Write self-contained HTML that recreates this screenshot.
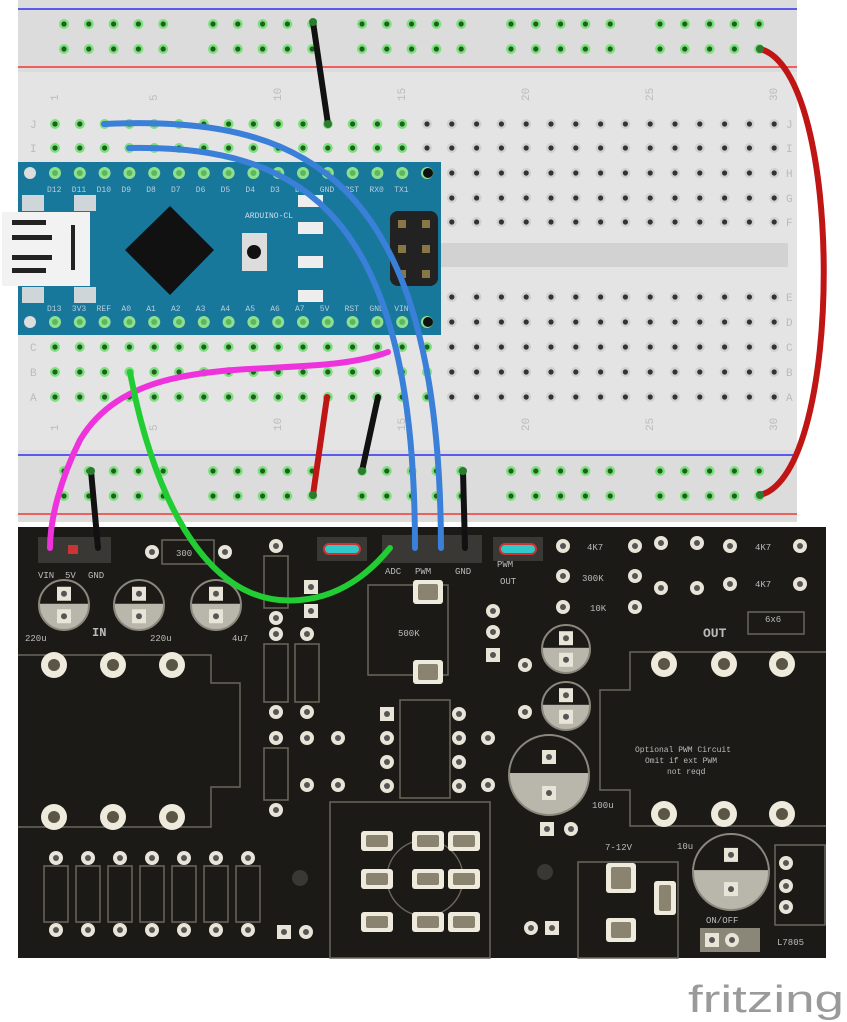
<!DOCTYPE html>
<html><head><meta charset="utf-8">
<style>
html,body{margin:0;padding:0;background:#fff;width:847px;height:1022px;overflow:hidden}
svg{display:block}
text{font-family:"Liberation Mono",monospace}
</style></head><body>
<svg id="s" width="847" height="1022" viewBox="0 0 847 1022" xmlns="http://www.w3.org/2000/svg">
<rect x="18" y="0" width="779" height="522" fill="#dcdcdc"/>
<rect x="18" y="72" width="779" height="378" fill="#e4e4e4"/>
<rect x="440" y="243" width="348" height="24" fill="#d2d2d2"/>
<line x1="18" y1="9" x2="797" y2="9" stroke="#5a5aee" stroke-width="2"/>
<line x1="18" y1="67" x2="797" y2="67" stroke="#ee6060" stroke-width="2"/>
<line x1="18" y1="455" x2="797" y2="455" stroke="#5a5aee" stroke-width="2"/>
<line x1="18" y1="514" x2="797" y2="514" stroke="#ee6060" stroke-width="2"/>
<g id="holes"></g>
<g font-size="11" fill="#bbb" id="nums"></g>
<rect x="18" y="162" width="423" height="173" fill="#17789c"/>
<rect x="2" y="212" width="88" height="74" fill="#f2f2f2"/>
<g fill="#222"><rect x="12" y="220" width="34" height="5"/><rect x="12" y="268" width="34" height="5"/><rect x="12" y="235" width="40" height="5"/><rect x="12" y="255" width="40" height="5"/><rect x="71" y="225" width="4" height="45"/></g>
<rect x="22" y="195" width="22" height="16" fill="#cfd6d9"/><rect x="74" y="195" width="22" height="16" fill="#cfd6d9"/>
<rect x="22" y="287" width="22" height="16" fill="#cfd6d9"/><rect x="74" y="287" width="22" height="16" fill="#cfd6d9"/>
<polygon points="170,206 214,250 170,295 125,250" fill="#111"/>
<rect x="242" y="233" width="25" height="38" fill="#ddd"/><circle cx="254" cy="252" r="7" fill="#111"/>
<g fill="#eee"><rect x="298" y="195" width="25" height="12"/><rect x="298" y="222" width="25" height="12"/><rect x="298" y="256" width="25" height="12"/><rect x="298" y="290" width="25" height="12"/></g>
<rect x="390" y="211" width="48" height="75" rx="8" fill="#222"/>
<g fill="#887744"><rect x="398" y="220" width="8" height="8"/><rect x="422" y="220" width="8" height="8"/><rect x="398" y="245" width="8" height="8"/><rect x="422" y="245" width="8" height="8"/><rect x="398" y="270" width="8" height="8"/><rect x="422" y="270" width="8" height="8"/></g>
<g id="ard"></g>
<text x="245" y="218" font-size="8" fill="#cde">ARDUINO-CL</text>
<rect x="18" y="527" width="808" height="431" fill="#1c1a17"/>
<g id="pcb" fill="none" stroke="#6a665c" stroke-width="1.5"></g>
<g id="pads"></g>
<g font-size="9" fill="#bbb">
<text x="38" y="578">VIN</text><text x="65" y="578">5V</text><text x="88" y="578">GND</text>
<text x="385" y="574">ADC</text><text x="415" y="574">PWM</text><text x="455" y="574">GND</text>
<text x="497" y="567">PWM</text><text x="500" y="584">OUT</text>
<text x="25" y="641">220u</text><text x="150" y="641">220u</text><text x="232" y="641">4u7</text>
<text x="92" y="636" font-size="12" font-weight="bold">IN</text>
<text x="703" y="637" font-size="13" font-weight="bold">OUT</text>
<text x="398" y="636">500K</text>
<text x="587" y="550">4K7</text><text x="582" y="581">300K</text><text x="590" y="611">10K</text>
<text x="755" y="550">4K7</text><text x="755" y="587">4K7</text><text x="765" y="622">6x6</text>
<text x="635" y="752" font-size="8">Optional PWM Circuit</text><text x="645" y="763" font-size="8">Omit if ext PWM</text><text x="667" y="774" font-size="8">not reqd</text>
<text x="592" y="808">100u</text><text x="605" y="850">7-12V</text><text x="677" y="849">10u</text>
<text x="706" y="923">ON/OFF</text><text x="777" y="945">L7805</text>
<text x="176" y="556">300</text>
</g>
<g fill="none" stroke-linecap="round">
<path d="M313,22 L328,124" stroke="#111" stroke-width="6"/>
<path d="M327,397 L313,495" stroke="#c01515" stroke-width="6"/>
<path d="M378,397 L362,471" stroke="#111" stroke-width="6"/>
<path d="M91,471 L98,548" stroke="#111" stroke-width="6"/>
<path d="M463,471 L465,548" stroke="#111" stroke-width="6"/>
<path d="M760,49 C845,70 845,475 760,495" stroke="#c01515" stroke-width="6"/>
<path d="M104,124 C300,115 440,170 441,548" stroke="#3a7fd8" stroke-width="6"/>
<path d="M129,148 C300,145 415,210 415,548" stroke="#3a7fd8" stroke-width="6"/>
<path d="M388,352 C300,385 140,340 80,440 C60,480 50,520 50,548" stroke="#ee33dd" stroke-width="6"/>
<path d="M130,372 C150,480 200,610 300,600 C350,596 380,560 390,548" stroke="#22cc33" stroke-width="6"/>
</g>
<g fill="#2c7a30"><circle cx="313" cy="22" r="4"/><circle cx="328" cy="124" r="4"/><circle cx="760" cy="49" r="4"/><circle cx="760" cy="495" r="4"/><circle cx="313" cy="495" r="4"/><circle cx="362" cy="471" r="4"/><circle cx="463" cy="471" r="4"/><circle cx="91" cy="471" r="4"/></g>
<text x="688" y="1012" style="font-family:'Liberation Sans',sans-serif" font-size="38" fill="#9a9a9a" textLength="156" lengthAdjust="spacingAndGlyphs">fritzing</text>
</svg>
<script>
var NS="http://www.w3.org/2000/svg";
function el(p,t,a){var e=document.createElementNS(NS,t);for(var k in a)e.setAttribute(k,a[k]);p.appendChild(e);return e;}
var H=document.getElementById("holes");
function hole(x,y,g){el(H,"circle",{cx:x,cy:y,r:5,fill:g?"#7de07d":"#d0d0d0"});el(H,"circle",{cx:x,cy:y,r:2.6,fill:g?"#1f5f1f":"#333"});}
[24,49,471,496].forEach(function(y){for(var g=0;g<5;g++)for(var i=0;i<5;i++){var x=64+g*149+i*24.8;hole(x,y,true);}});
var rows=[124,148,173,198,222,297,322,347,372,397];
rows.forEach(function(y,r){for(var c=0;c<30;c++){var x=55+c*24.8;var g=(r<2&&c<15)||(r>=5&&c<16);hole(x,y,g);}});
var N=document.getElementById("nums");
[[1,55],[5,154],[10,278],[15,402],[20,526],[25,650],[30,774]].forEach(function(a){el(N,"text",{x:a[1]-6,y:98,transform:"rotate(-90 "+a[1]+" 95)"}).textContent=a[0];el(N,"text",{x:a[1]-6,y:428,transform:"rotate(-90 "+a[1]+" 425)"}).textContent=a[0];});
["J","I","H","G","F","E","D","C","B","A"].forEach(function(l,i){el(N,"text",{x:30,y:rows[i]+4}).textContent=l;el(N,"text",{x:786,y:rows[i]+4}).textContent=l;});
var A=document.getElementById("ard");
for(var c=0;c<16;c++){var x=55+c*24.8;[173,322].forEach(function(y){el(A,"circle",{cx:x,cy:y,r:6,fill:"#8ee08e"});el(A,"circle",{cx:x,cy:y,r:3,fill:"#5cb85c"});});}
el(A,"circle",{cx:30,cy:173,r:6,fill:"#ddd"});el(A,"circle",{cx:30,cy:322,r:6,fill:"#ddd"});
el(A,"circle",{cx:428,cy:173,r:5,fill:"#111"});el(A,"circle",{cx:428,cy:322,r:5,fill:"#111"});
var tl=["D12","D11","D10","D9","D8","D7","D6","D5","D4","D3","D2","GND","RST","RX0","TX1"],bl=["D13","3V3","REF","A0","A1","A2","A3","A4","A5","A6","A7","5V","RST","GND","VIN"];
for(var i=0;i<15;i++){var t=el(A,"text",{x:47+i*24.8,y:192,"font-size":8,fill:"#bcd"});t.textContent=tl[i];var b=el(A,"text",{x:47+i*24.8,y:311,"font-size":8,fill:"#bcd"});b.textContent=bl[i];}
var P=document.getElementById("pads"),O=document.getElementById("pcb");
function pad(x,y,sq){if(sq)el(P,"rect",{x:x-7,y:y-7,width:14,height:14,fill:"#e8e4d8"});else el(P,"circle",{cx:x,cy:y,r:7,fill:"#e8e4d8"});el(P,"circle",{cx:x,cy:y,r:3,fill:"#555"});}
function big(x,y){el(P,"circle",{cx:x,cy:y,r:13,fill:"#eeeadc"});el(P,"circle",{cx:x,cy:y,r:6,fill:"#5a5545"});}
function cap(x,y,r){el(P,"circle",{cx:x,cy:y,r:r,fill:"#b9b6ac"});el(P,"rect",{x:x-r,y:y-r,width:2*r,height:r*0.95,fill:"#1c1a17"});el(P,"circle",{cx:x,cy:y,r:r,fill:"none",stroke:"#8a877c","stroke-width":2});pad(x,y-r*0.45,1);pad(x,y+r*0.45,1);}
function lab(x,y,w,h){el(O,"rect",{x:x,y:y,width:w,height:h});}
function slot(x,y,w,h){el(P,"rect",{x:x-w/2,y:y-h/2,width:w,height:h,rx:3,fill:"#eeeadc"});el(P,"rect",{x:x-w/2+5,y:y-h/2+4,width:w-10,height:h-8,rx:2,fill:"#8a8370"});}
el(P,"rect",{x:38,y:537,width:73,height:26,fill:"#3a3834"});el(P,"rect",{x:68,y:545,width:10,height:9,fill:"#c33"});
el(P,"rect",{x:382,y:535,width:100,height:28,fill:"#3a3834"});
[[317,537],[493,537]].forEach(function(a){el(P,"rect",{x:a[0],y:a[1],width:50,height:24,fill:"#3a3834"});el(P,"rect",{x:a[0]+7,y:a[1]+7,width:36,height:10,rx:5,fill:"#30c8c8",stroke:"#c33","stroke-width":2});});
pad(152,552);pad(225,552);lab(162,540,52,24);
cap(64,605,25);cap(139,605,25);cap(216,605,25);
big(54,665);big(113,665);big(172,665);big(54,817);big(113,817);big(172,817);
el(O,"path",{d:"M18,655 L211,655 L211,683 L240,683 L240,787 L211,787 L211,827 L18,827"});
[[276,546,618],[276,634,712],[307,634,712],[276,738,810]].forEach(function(a){pad(a[0],a[1]);pad(a[0],a[2]);lab(a[0]-12,a[1]+10,24,a[2]-a[1]-20);});
pad(311,587,1);pad(311,611,1);pad(307,738);pad(307,785);pad(338,738);pad(338,785);
pad(387,714,1);pad(387,738);pad(387,762);pad(387,786);pad(459,714);pad(459,738);pad(459,762);pad(459,786);
lab(400,700,50,98);pad(488,738);pad(488,785);
slot(428,592,30,24);slot(428,672,30,24);lab(368,585,80,90);
pad(493,611);pad(493,632);pad(493,655,1);
pad(563,546);pad(635,546);pad(563,576);pad(635,576);pad(563,607);pad(635,607);
pad(661,543);pad(661,588);pad(697,543);pad(697,588);
pad(730,546);pad(800,546);pad(730,584);pad(800,584);lab(748,612,56,22);
cap(566,649,24);cap(566,706,24);cap(549,775,40);pad(547,829,1);pad(571,829);
pad(525,665);pad(525,712);
big(664,664);big(724,664);big(782,664);big(664,814);big(724,814);big(782,814);
el(O,"path",{d:"M826,652 L630,652 L630,690 L600,690 L600,790 L630,790 L630,826 L826,826"});
cap(731,872,38);
[[377,841],[428,841],[464,841],[377,879],[428,879],[464,879],[377,922],[428,922],[464,922]].forEach(function(a){slot(a[0],a[1],32,20);});
el(O,"circle",{cx:425,cy:878,r:38});lab(330,802,160,156);
slot(621,878,30,30);slot(621,930,30,24);slot(665,898,22,34);lab(578,862,100,96);
pad(786,863);pad(786,886);pad(786,907);lab(775,845,50,80);
el(P,"rect",{x:700,y:928,width:60,height:24,fill:"#8a8678"});pad(712,940,1);pad(732,940);
for(var i=0;i<7;i++){var x=56+i*32;pad(x,858);pad(x,930);lab(x-12,866,24,56);}
el(P,"circle",{cx:300,cy:878,r:8,fill:"#3a3834"});el(P,"circle",{cx:545,cy:872,r:8,fill:"#3a3834"});
pad(284,932,1);pad(306,932);pad(531,928);pad(552,928,1);
</script>
</body></html>
